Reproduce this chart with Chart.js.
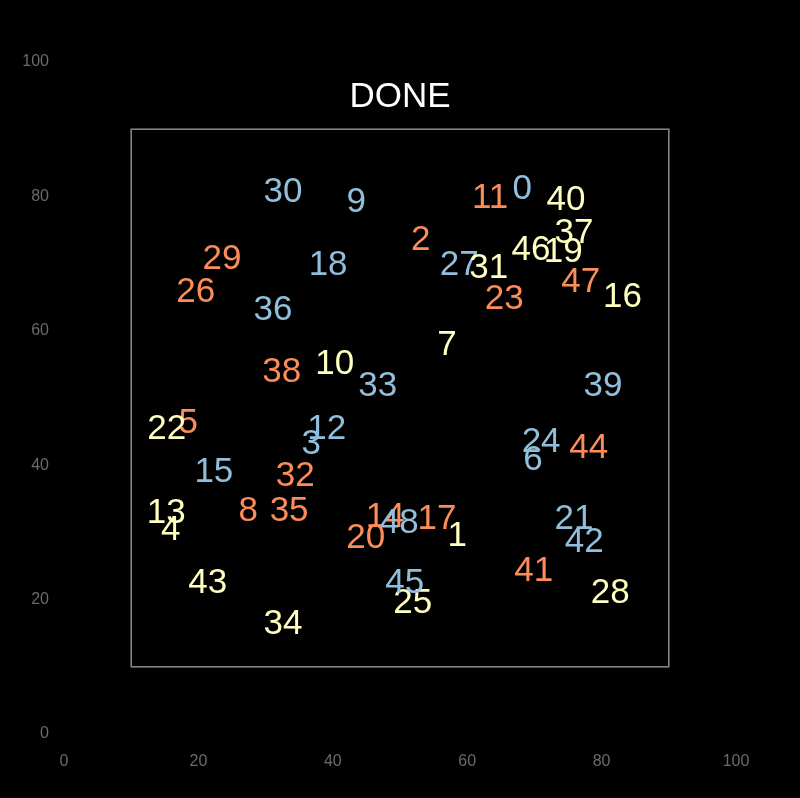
<!DOCTYPE html>
<html>
<head>
<meta charset="utf-8">
<script src="https://cdn.jsdelivr.net/npm/chart.js@4/dist/chart.umd.min.js"></script>
<style>
html,body{margin:0;padding:0;background:#000;}
#wrap{width:800px;height:798px;}
</style>
</head>
<body>
<div id="wrap"><canvas id="c" width="800" height="798"></canvas></div>
<script>
// ---- data ----
const labels = ["0","1","2","3","4","5","6","7","8","9","10","11","12","13","14","15","16","17","18","19","20","21","22","23","24","25","26","27","28","29","30","31","32","33","34","35","36","37","38","39","40","41","42","43","44","45","46","47","48"];
const xs = [68.2,58.5,53.1,36.8,15.9,18.5,69.8,57.0,27.4,43.5,40.3,63.4,39.1,15.2,47.8,22.3,83.1,55.5,39.3,74.3,44.9,75.9,15.3,65.5,71.0,51.9,19.6,58.8,81.3,23.5,32.6,63.2,34.4,46.7,32.6,33.5,31.1,75.9,32.4,80.2,74.7,69.9,77.4,21.4,78.1,50.7,69.5,76.9,49.9];
const ys = [81.5,29.9,73.9,43.5,30.8,46.6,41.2,58.3,33.5,79.6,55.5,80.1,45.7,33.3,32.6,39.4,65.4,32.3,70.2,72.1,29.5,32.4,45.8,65.1,43.9,19.8,66.2,70.2,21.4,71.1,81.1,69.7,38.7,52.1,16.7,33.5,63.5,74.9,54.3,52.2,79.8,24.7,29.0,22.8,42.9,22.8,72.4,67.6,31.8];
const titleText = "DONE";
const titleAt = [50, 95.2];
const boxRange = [10, 90];
const tickValues = [0, 20, 40, 60, 80, 100];

const palette = ["#91bfdb", "#ffffbf", "#fc8d59"];
const labelFont = 35;

const points = xs.map((x, i) => ({x: x, y: ys[i], label: labels[i]}));

const overlay = {
  id: 'overlay',
  beforeDraw(chart) {
    const ctx = chart.ctx;
    ctx.save();
    ctx.fillStyle = '#000';
    ctx.fillRect(0, 0, chart.width, chart.height);
    ctx.restore();
  },
  afterDatasetsDraw(chart) {
    const ctx = chart.ctx;
    const sx = chart.scales.x, sy = chart.scales.y;
    ctx.save();
    // box
    const x0 = sx.getPixelForValue(boxRange[0]), x1 = sx.getPixelForValue(boxRange[1]);
    const y0 = sy.getPixelForValue(boxRange[1]), y1 = sy.getPixelForValue(boxRange[0]);
    ctx.strokeStyle = '#8a8a8a';
    ctx.lineWidth = 1.5;
    ctx.strokeRect(x0, y0, x1 - x0, y1 - y0);
    // labels
    ctx.font = labelFont + 'px "Liberation Sans", Arial, sans-serif';
    ctx.textAlign = 'center';
    ctx.textBaseline = 'alphabetic';
    const meta = chart.getDatasetMeta(0);
    meta.data.forEach((el, i) => {
      ctx.fillStyle = palette[i % 3];
      ctx.fillText(points[i].label, el.x, el.y + 0.358 * labelFont);
    });
    // title
    ctx.fillStyle = '#ffffff';
    ctx.font = '35px "Liberation Sans", Arial, sans-serif';
    ctx.fillText(titleText, sx.getPixelForValue(titleAt[0]), sy.getPixelForValue(titleAt[1]) + 0.358 * 35);
    ctx.restore();
  }
};

new Chart(document.getElementById('c'), {
  type: 'scatter',
  data: {
    datasets: [{
      data: points,
      pointRadius: 0,
      pointHoverRadius: 0,
      showLine: false
    }]
  },
  options: {
    responsive: false,
    animation: false,
    events: [],
    layout: {padding: {top: 62, right: 64, left: 0, bottom: 0}},
    plugins: {legend: {display: false}, tooltip: {enabled: false}, title: {display: false}},
    scales: {
      x: {
        type: 'linear', min: 0, max: 100,
        grid: {display: false}, border: {display: false},
        afterFit(s) { s.height = 64; },
        afterBuildTicks(s) { s.ticks = tickValues.map(v => ({value: v})); },
        ticks: {color: '#6a6a6a', font: {family: '"Liberation Sans", Arial, sans-serif', size: 16}, padding: 10, maxRotation: 0}
      },
      y: {
        type: 'linear', min: 0, max: 100,
        grid: {display: false}, border: {display: false},
        afterFit(s) { s.width = 64; },
        afterBuildTicks(s) { s.ticks = tickValues.map(v => ({value: v})); },
        ticks: {color: '#6a6a6a', font: {family: '"Liberation Sans", Arial, sans-serif', size: 16}, padding: 7}
      }
    }
  },
  plugins: [overlay]
});
</script>
</body>
</html>
